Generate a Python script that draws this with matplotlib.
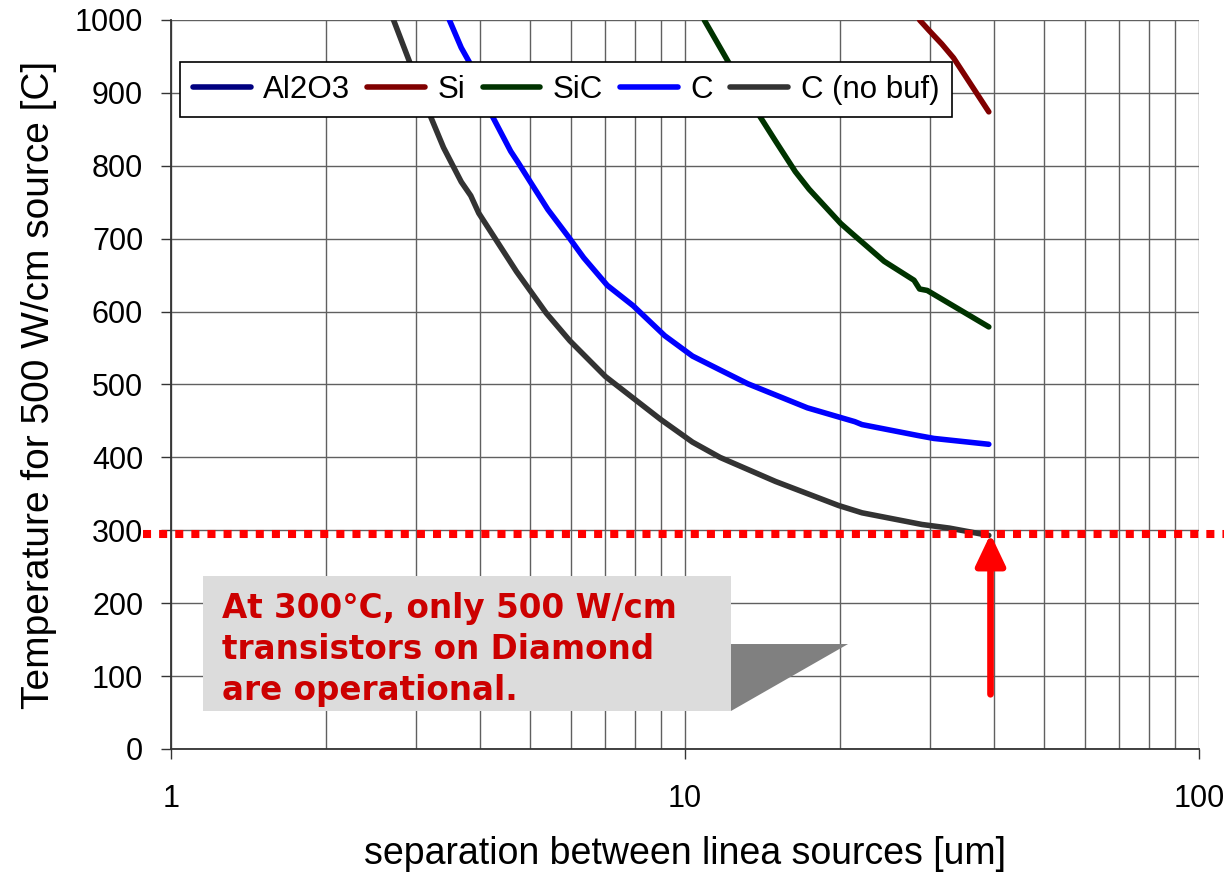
import matplotlib
matplotlib.use('Agg')
import matplotlib.pyplot as plt
from matplotlib.patches import Rectangle, Polygon
from matplotlib.ticker import FixedLocator, NullFormatter

# curves (x in um, T in C)
x_nobuf = [2.71, 3.18, 3.39, 3.67, 3.83, 3.97, 4.70, 5.37, 5.97, 7.00, 8.97, 10.34,
           11.7, 15.0, 19.9, 22.1, 28.9, 32.7, 39.0]
t_nobuf = [1000, 872, 825, 778, 759, 735, 655, 598, 560, 511, 452, 421,
           400, 367, 334, 324, 308, 303, 293]

x_c = [3.48, 3.67, 3.80, 4.19, 4.58, 4.74, 5.00, 5.41, 5.97, 6.35, 7.06, 7.93, 9.13,
       10.34, 11.7, 13.25, 17.3, 21.4, 22.1, 28.4, 30.5, 39.0]
t_c = [1000, 962, 943, 872, 820, 804, 778, 740, 700, 674, 636, 608, 567,
       539, 520, 501, 468, 449, 445, 430, 426, 418]

x_sic = [10.9, 12.13, 13.72, 15.0, 16.39, 17.43, 20.08, 20.99, 24.4, 27.9, 28.6, 29.6, 39.0]
t_sic = [1000, 943, 877, 834, 792, 768, 721, 709, 669, 643, 631, 629, 579]

x_si = [28.6, 29.9, 31.6, 33.3, 39.0]
t_si = [1000, 985, 967, 948, 874]

# Al2O3 stays above 1000 C over the whole range -> nothing visible
x_al = []
t_al = []

series = [('Al2O3', x_al, t_al, '#000080'),
          ('Si', x_si, t_si, '#800000'),
          ('SiC', x_sic, t_sic, '#003300'),
          ('C', x_c, t_c, '#0000ff'),
          ('C (no buf)', x_nobuf, t_nobuf, '#333333')]

limit_T = 295
arrow_x = 39.3

plt.rcParams['font.family'] = ['Liberation Sans', 'DejaVu Sans']

fig = plt.figure(figsize=(12.24, 8.74), dpi=100)
ax = fig.add_axes([171/1224, 125/874, 1028/1224, 729/874])

for name, xs, ts, col in series:
    ax.plot(xs, ts, color=col, lw=4.0, label=name, solid_capstyle='round')

ax.set_xscale('log')
ax.set_xlim(1, 100)
ax.set_ylim(0, 1000)
ax.set_yticks(range(0, 1001, 100))
ax.xaxis.set_major_locator(FixedLocator([1, 10, 100]))
ax.set_xticklabels(['1', '10', '100'])
ax.xaxis.set_minor_locator(FixedLocator([m * d for d in (1, 10) for m in range(2, 10)]))
ax.xaxis.set_minor_formatter(NullFormatter())

ax.grid(True, which='both', color='#606060', lw=1.0)
ax.set_axisbelow(True)
ax.tick_params(axis='both', which='major', direction='out', length=7, width=1,
               color='#333333', labelsize=22)
ax.tick_params(axis='x', which='major', pad=18)
ax.tick_params(axis='y', which='major', pad=13)
ax.tick_params(axis='x', which='minor', length=0)
for s in ('top', 'right'):
    ax.spines[s].set_visible(False)
for s in ('left', 'bottom'):
    ax.spines[s].set_color('#333333')
    ax.spines[s].set_linewidth(1.3)

ax.set_xlabel('separation between linea sources [um]', fontsize=27, labelpad=16)
ax.set_ylabel('Temperature for 500 W/cm source [C]', fontsize=28, labelpad=13)

leg = ax.legend(loc='upper left', bbox_to_anchor=(0.009, 0.942), borderaxespad=0,
                ncol=5, fontsize=22.5, handlelength=1.85, handletextpad=0.4,
                columnspacing=0.55, borderpad=0.4, fancybox=False, framealpha=1,
                edgecolor='black')
leg.get_frame().set_linewidth(1.2)

# 300 C limit line, runs past the axes on both sides
ax.plot([-0.027, 1.03], [limit_T, limit_T], color='red', lw=5.8,
        linestyle=(0, (1, 1)), solid_capstyle='butt', dash_capstyle='butt',
        transform=ax.get_yaxis_transform(), clip_on=False, zorder=5)

ax.annotate('', xy=(arrow_x, limit_T), xytext=(arrow_x, 75),
            arrowprops=dict(arrowstyle='-|>,head_length=0.95,head_width=0.45',
                            mutation_scale=20, color='red', lw=4.8,
                            shrinkA=0, shrinkB=0), zorder=6)

# callout box
ax.add_patch(Polygon([(0.5447, 0.144), (0.6586, 0.144), (0.5447, 0.0521)],
                     closed=True, facecolor='#808080', edgecolor='none',
                     transform=ax.transAxes, zorder=4))
ax.add_patch(Rectangle((0.0311, 0.0521), 0.5136, 0.1852, facecolor='#dcdcdc',
                       edgecolor='none', transform=ax.transAxes, zorder=4))
ax.text(0.0496, 0.2154, 'At 300°C, only 500 W/cm\ntransistors on Diamond\nare operational.',
        transform=ax.transAxes, ha='left', va='top', color='#cc0000',
        fontsize=23.5, fontweight='bold', family=['DejaVu Sans'], linespacing=1.3,
        zorder=5)

fig.savefig('out.png', dpi=100)
